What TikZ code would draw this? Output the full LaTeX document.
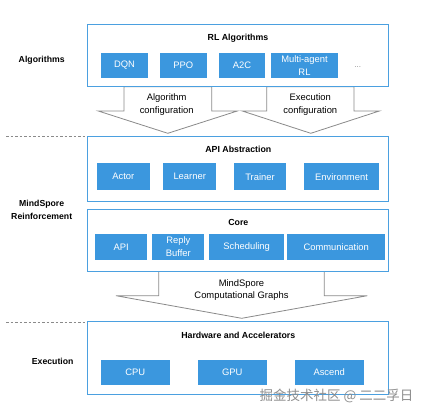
\documentclass[tikz,border=0pt]{standalone}
\usepackage{fontspec}
\setmainfont{Liberation Sans}
\newfontfamily\cjkfont{Noto Sans CJK SC}
\definecolor{boxblue}{HTML}{4BA0E0}
\definecolor{fillblue}{HTML}{3B97DE}
\definecolor{arrowgray}{HTML}{8A8A8A}
\definecolor{markgray}{HTML}{8E8E8E}
\begin{document}
\begin{tikzpicture}[x=1pt,y=-1pt,
  outerbox/.style={draw=boxblue,line width=1pt,fill=white},
  innerbox/.style={fill=fillblue,text=white,inner sep=0pt,align=center,
    font=\fontsize{9.4}{12.7}\selectfont},
  titletext/.style={inner sep=0pt,font=\fontsize{8.8}{10}\selectfont\bfseries},
  sidelabel/.style={inner sep=0pt,align=center,font=\fontsize{8.7}{13.3}\selectfont\bfseries},
  blockarrow/.style={draw=arrowgray,line width=0.8pt,fill=white,line join=miter},
  arrowtext/.style={inner sep=0pt,align=center,font=\fontsize{9.4}{12.7}\selectfont},
  sepline/.style={draw=arrowgray,line width=0.7pt,dash pattern=on 2.5pt off 2pt}]
\useasboundingbox (0,0) rectangle (432,416);

% separators
\coordinate (s1a) at (6,136.7); \coordinate (s1b) at (87.3,136.7);
\coordinate (s2a) at (6,322.3); \coordinate (s2b) at (87.3,322.3);
\draw[sepline] (s1a) -- (s1b);
\draw[sepline] (s2a) -- (s2b);

% block arrows
\draw[blockarrow] (124,86.7) -- (124,111) -- (98.3,111) -- (167.8,133.3) -- (237.3,111) -- (211.7,111) -- (211.7,86.7) -- cycle;
\draw[blockarrow] (266.7,86.7) -- (266.7,111) -- (242.3,111) -- (310.8,133.3) -- (379.3,111) -- (354,111) -- (354,86.7) -- cycle;
\draw[blockarrow] (158.7,271.3) -- (158.7,295.7) -- (116,295.7) -- (241.7,318.3) -- (367.4,295.7) -- (324.3,295.7) -- (324.3,271.3) -- cycle;
\node[arrowtext] (cfgA) at (166.7,104.9) {Algorithm\\configuration};
\node[arrowtext] (cfgE) at (310.3,104.9) {Execution\\configuration};
\node[arrowtext,font=\fontsize{9.4}{12}\selectfont] (graphs) at (241.5,289.6) {MindSpore\\Computational Graphs};

% RL Algorithms
\node[outerbox,minimum width=301.4pt,minimum height=62.4pt,inner sep=0pt] (rl) at (238,55.5) {};
\node[titletext] (rlt) at (238,37.9) {RL Algorithms};
\node[innerbox,minimum width=47.6pt,minimum height=25.6pt] (dqn) at (124.5,65.5) {DQN};
\node[innerbox,minimum width=46.7pt,minimum height=25.6pt] (ppo) at (183.3,65.5) {PPO};
\node[innerbox,minimum width=46.6pt,minimum height=25.6pt] (a2c) at (242,65.5) {A2C};
\node[innerbox,minimum width=67.6pt,minimum height=25.6pt] (marl) at (304.5,65.5) {Multi-agent\\RL};
\node[inner sep=0pt,text=markgray,font=\fontsize{8}{10}\selectfont] (dots) at (357.7,67.5) {...};

% API Abstraction
\node[outerbox,minimum width=301.4pt,minimum height=65pt,inner sep=0pt] (api) at (238,169.2) {};
\node[titletext] (apit) at (238.3,149.5) {API Abstraction};
\node[innerbox,minimum width=52.7pt,minimum height=26.7pt] (actor) at (123.3,176.7) {Actor};
\node[innerbox,minimum width=52.7pt,minimum height=26.7pt] (learner) at (189.7,176.7) {Learner};
\node[innerbox,minimum width=52.6pt,minimum height=26.7pt] (trainer) at (260,176.7) {Trainer};
\node[innerbox,minimum width=75pt,minimum height=26.7pt] (env) at (341.5,176.7) {Environment};

% Core
\node[outerbox,minimum width=301.4pt,minimum height=62.3pt,inner sep=0pt] (core) at (238,240.2) {};
\node[titletext] (coret) at (238.3,222.5) {Core};
\node[innerbox,minimum width=52.3pt,minimum height=26.3pt] (capi) at (121.2,246.8) {API};
\node[innerbox,minimum width=52pt,minimum height=26.3pt] (buf) at (178.3,246.8) {Reply\\Buffer};
\node[innerbox,minimum width=74.7pt,minimum height=26.3pt] (sched) at (246.7,246.8) {Scheduling};
\node[innerbox,minimum width=98.3pt,minimum height=26.3pt] (comm) at (336.2,246.8) {Communication};

% Hardware
\node[outerbox,minimum width=301.4pt,minimum height=72.3pt,inner sep=0pt] (hw) at (238,357.9) {};
\node[titletext] (hwt) at (238.3,335.5) {Hardware and Accelerators};
\node[innerbox,minimum width=69.3pt,minimum height=24.4pt] (cpu) at (135.3,372.5) {CPU};
\node[innerbox,minimum width=69pt,minimum height=24.4pt] (gpu) at (232.2,372.5) {GPU};
\node[innerbox,minimum width=69pt,minimum height=24.4pt] (ascend) at (329.2,372.5) {Ascend};

% side labels
\node[sidelabel] (lalg) at (41.7,60.5) {Algorithms};
\node[sidelabel] (lms) at (41.7,210.2) {MindSpore\\Reinforcement};
\node[sidelabel] (lexe) at (52.7,361) {Execution};

% watermark
\node[inner sep=0pt,text=markgray,font=\cjkfont\fontsize{13.5}{14}\selectfont] (wm) at (336.5,395.5) {掘金技术社区 @ 二二孚日};
\end{tikzpicture}
\end{document}
